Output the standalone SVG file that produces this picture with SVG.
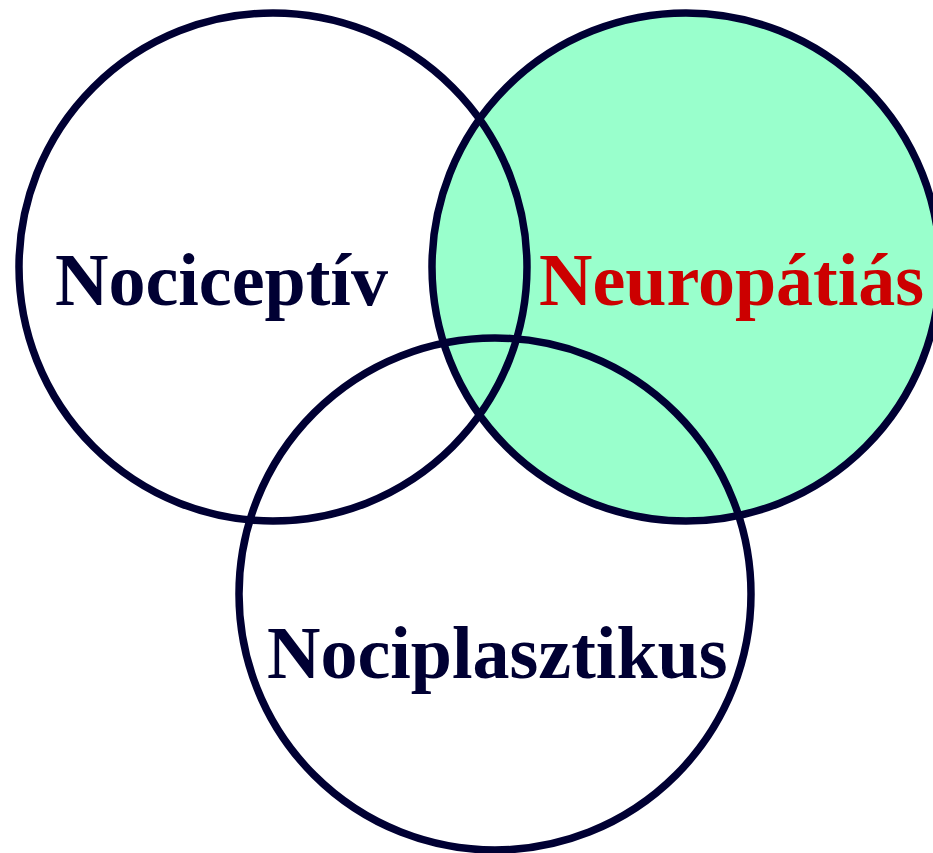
<svg xmlns="http://www.w3.org/2000/svg" width="933" height="853" viewBox="0 0 933 853">
<style>
.ring{fill:none;stroke:#000033;stroke-width:7.5}
.lbl{font-family:"Liberation Serif","Times New Roman",serif;font-weight:bold;font-size:74px}
</style>
<rect width="933" height="853" fill="#ffffff"/>
<g id="neuropathic-fill"><circle cx="686" cy="267" r="254" fill="#99FFCC"/></g>
<g id="nociceptive"><circle class="ring" cx="273" cy="267" r="254"/><text class="lbl" x="55" y="305" fill="#000033">Nociceptív</text></g>
<g id="neuropathic"><circle class="ring" cx="686" cy="267" r="254"/><text class="lbl" x="539" y="305" fill="#CC0000">Neuropátiás</text></g>
<g id="nociplastic"><circle class="ring" cx="495" cy="594" r="256"/><text class="lbl" x="267" y="678" fill="#000033">Nociplasztikus</text></g>
<g id="connectors"></g>
</svg>
